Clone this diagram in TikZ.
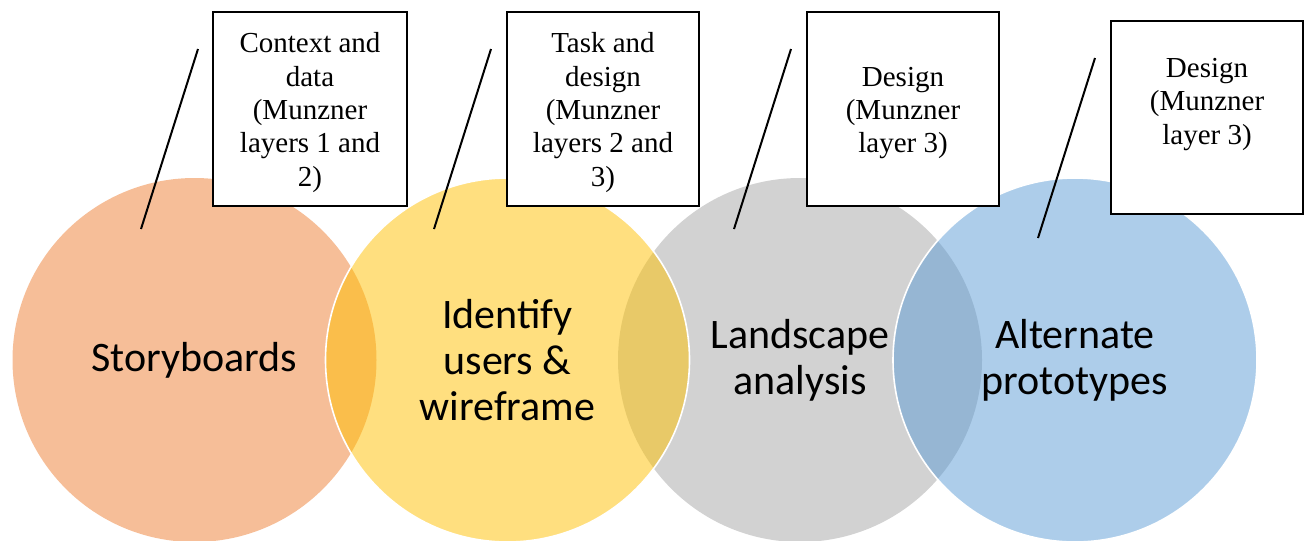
\documentclass[tikz,border=0pt]{standalone}
\usepackage{fontspec}
\setmainfont{Liberation Serif}
\newfontfamily\calibri{Carlito}
\definecolor{corange}{HTML}{ED7D31}
\definecolor{cyellow}{HTML}{FFC000}
\definecolor{cgray}{HTML}{A5A5A5}
\definecolor{cblue}{HTML}{5B9BD5}
\tikzset{
  venn/.style={circle, minimum size=273pt, inner sep=0pt, fill opacity=0.5, text opacity=1,
    align=center, font=\calibri\fontsize{31.5pt}{34.5pt}\selectfont},
  vennwhite/.style={venn, draw=white, draw opacity=1, line width=1.2pt},
  notebox/.style={draw=black, line width=1.9pt, fill=white, inner sep=0pt},
  notetext/.style={align=center, font=\fontsize{21.75pt}{25.1pt}\selectfont, inner sep=0pt},
  pointer/.style={draw=black, line width=1.5pt}
}
\begin{document}
\begin{tikzpicture}[x=0.75pt, y=-0.75pt]
\useasboundingbox (0,0) rectangle (1306,540);
% circles
\node[venn, fill=corange] (c1) at (194.5,360) {Storyboards};
\node[venn, fill=cgray] (c3) at (800,360) {Landscape\\analysis};
\node[vennwhite, fill=cyellow] (c2) at (507.5,360) {Identify\\users \&\\wireframe};
\node[vennwhite, fill=cblue] (c4) at (1075,360) {Alternate\\prototypes};
% boxes
\node[notebox, minimum width=145.5pt, minimum height=145.5pt] (b1) at (310,109) {};
\node[notetext] (t1) at (310,112.5) {Context and\\data\\(Munzner\\layers 1 and\\2)};
\node[notebox, minimum width=144pt, minimum height=145.5pt] (b2) at (603,109) {};
\node[notetext] (t2) at (603,112.5) {Task and\\design\\(Munzner\\layers 2 and\\3)};
\node[notebox, minimum width=144pt, minimum height=145.5pt] (b3) at (903,109) {};
\node[notetext] (t3) at (903,113) {Design\\(Munzner\\layer 3)};
\node[notebox, minimum width=144pt, minimum height=144.75pt] (b4) at (1207,117.5) {};
\node[notetext] (t4) at (1207,104.5) {Design\\(Munzner\\layer 3)};
% pointers
\coordinate (p1a) at (198,49); \coordinate (p1b) at (141,229);
\coordinate (p2a) at (491,49); \coordinate (p2b) at (434,229);
\coordinate (p3a) at (791,49); \coordinate (p3b) at (734,229);
\coordinate (p4a) at (1095,58); \coordinate (p4b) at (1038,238);
\draw[pointer] (p1a) -- (p1b);
\draw[pointer] (p2a) -- (p2b);
\draw[pointer] (p3a) -- (p3b);
\draw[pointer] (p4a) -- (p4b);
\end{tikzpicture}
\end{document}
